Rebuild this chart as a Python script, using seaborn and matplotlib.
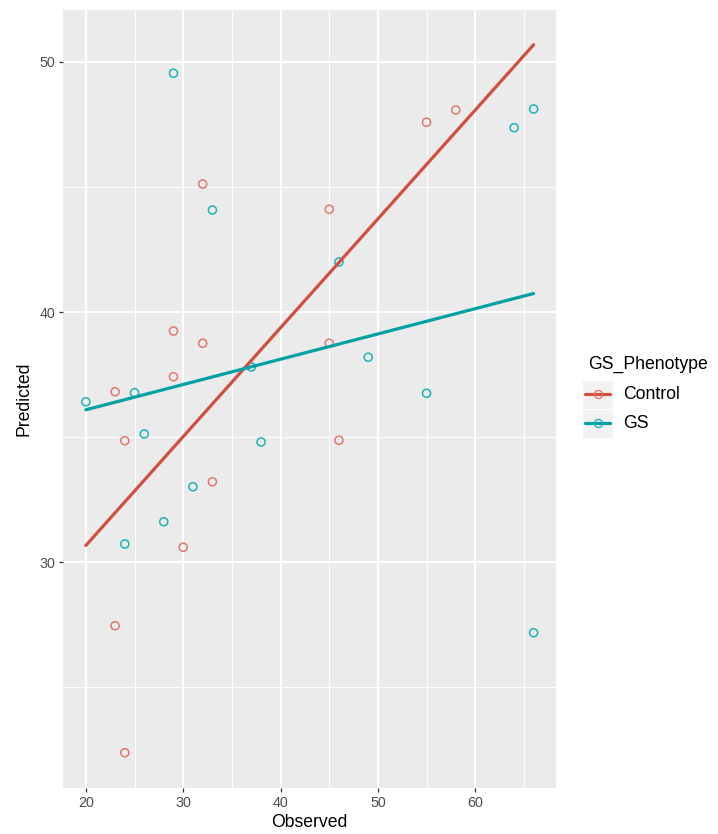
import matplotlib
matplotlib.use("Agg")
import matplotlib.pyplot as plt
from matplotlib.lines import Line2D
from matplotlib.patches import Rectangle
from matplotlib.ticker import MultipleLocator
import numpy as np
import pandas as pd
import seaborn as sns

# ---- data ----
groups = ["Control", "GS"]
ctrl_obs = [32, 45, 29, 32, 45, 29, 23, 55, 58, 24, 46, 33, 30, 23, 24]
ctrl_pred = [45.12, 44.11, 39.24, 38.75, 38.75, 37.41, 36.81, 47.59, 48.08,
             34.85, 34.87, 33.21, 30.59, 27.45, 22.37]
gs_obs = [29, 33, 25, 20, 64, 66, 49, 55, 26, 38, 31, 28, 24, 66, 46, 37]
gs_pred = [49.55, 44.08, 36.77, 36.41, 47.37, 48.12, 38.19, 36.75, 35.12,
           34.80, 33.01, 31.61, 30.72, 27.17, 42.0, 37.8]
x_ticks = [20, 30, 40, 50, 60]
y_ticks = [30, 40, 50]

df = pd.DataFrame({
    "Observed": ctrl_obs + gs_obs,
    "Predicted": ctrl_pred + gs_pred,
    "GS_Phenotype": ["Control"] * len(ctrl_obs) + ["GS"] * len(gs_obs),
})

point_pal = {"Control": "#E0786D", "GS": "#1DB3B6"}
line_pal = {"Control": "#D0503F", "GS": "#00A0A3"}

sns.set_theme(style="darkgrid")
plt.rcParams["font.family"] = ["Liberation Sans", "DejaVu Sans"]

W, H = 718, 834
fig = plt.figure(figsize=(W / 100, H / 100), dpi=100)
L, R, T, B = 63, 556, 10, 788
ax = fig.add_axes([L / W, (H - B) / H, (R - L) / W, (B - T) / H])
ax.set_facecolor("#EBEBEB")

sns.scatterplot(data=df, x="Observed", y="Predicted", hue="GS_Phenotype",
                palette=point_pal, s=34, linewidth=0, legend=False, ax=ax,
                zorder=3)
coll = ax.collections[0]
fcs = coll.get_facecolors()
coll.set_edgecolors(fcs)
coll.set_facecolors("none")
coll.set_linewidths(1.1)

for g in groups:
    sub = df[df["GS_Phenotype"] == g]
    ax.set_xlim(min(df["Observed"]), max(df["Observed"]))
    sns.regplot(data=sub, x="Observed", y="Predicted", scatter=False, ci=None,
                truncate=False, color=line_pal[g], line_kws={"lw": 2.3, "zorder": 4},
                ax=ax)

ax.set_xlim(17.65, 68.3)
ax.set_ylim(20.96, 52.08)

ax.xaxis.set_major_locator(matplotlib.ticker.FixedLocator(x_ticks))
ax.yaxis.set_major_locator(matplotlib.ticker.FixedLocator(y_ticks))
ax.xaxis.set_minor_locator(MultipleLocator(5))
ax.yaxis.set_minor_locator(MultipleLocator(5))
ax.grid(which="major", color="white", lw=1.4)
ax.grid(which="minor", color="white", lw=0.7)
ax.set_axisbelow(True)
for sp in ax.spines.values():
    sp.set_visible(False)

ax.tick_params(which="major", length=3.2, width=0.9, color="#333333",
               labelsize=10.3, labelcolor="#4D4D4D", pad=2.5,
               bottom=True, left=True)
ax.tick_params(which="minor", length=0, bottom=False, left=False)

ax.set_xlabel("Observed", fontsize=12.7, color="black", labelpad=3)
ax.set_ylabel("Predicted", fontsize=12.7, color="black", labelpad=5)

# ---- legend (ggplot style) ----
def fx(px):
    return px / W

def fy(py):
    return 1 - py / H

fig.text(fx(588), fy(364), "GS_Phenotype", fontsize=12.7, ha="left",
         va="center", color="black")
key_top = 380
key_h = 29
for i, g in enumerate(groups):
    y0 = key_top + i * key_h
    fig.patches.append(Rectangle((fx(582), fy(y0 + key_h)), (613 - 582) / W,
                                 key_h / H, transform=fig.transFigure,
                                 facecolor="#F2F2F2", edgecolor="white",
                                 lw=0.8, zorder=1))
    yc = y0 + key_h / 2
    fig.lines.append(Line2D([fx(585), fx(610)], [fy(yc), fy(yc)],
                            transform=fig.transFigure, color=line_pal[g],
                            lw=2.3, zorder=2))
    fig.lines.append(Line2D([fx(597.5)], [fy(yc)], transform=fig.transFigure,
                            marker="o", ms=5.8, mfc="none", mec=point_pal[g],
                            mew=1.0, lw=0, zorder=3))
    fig.text(fx(623), fy(yc), g, fontsize=12.7, ha="left", va="center",
             color="black")

fig.savefig("out.png", dpi=100, facecolor="white")
